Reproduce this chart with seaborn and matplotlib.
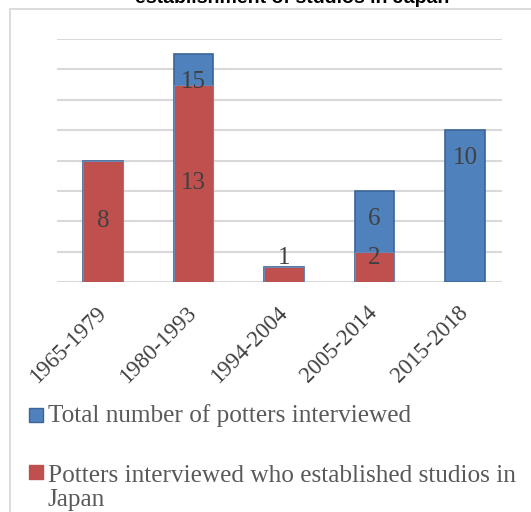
import matplotlib
matplotlib.use("Agg")
import matplotlib.pyplot as plt
from matplotlib.patches import Rectangle
from matplotlib.lines import Line2D
import seaborn as sns
import pandas as pd

# ---- data ----
periods = ["1965-1979", "1980-1993", "1994-2004", "2005-2014", "2015-2018"]
total_interviewed = [8, 15, 1, 6, 10]
established_in_japan = [8, 13, 1, 2, 0]
series_names = ["Total number of potters interviewed",
                "Potters interviewed who established studios in\nJapan"]
title = "establishment of studios in Japan"

BLUE = "#4F81BD"
RED = "#C0504D"
TXT = "#404040"
SERIF = ["Liberation Serif", "DejaVu Serif"]

sns.set_theme(style="white")
plt.rcParams["font.family"] = SERIF

W, H = 531, 512
fig = plt.figure(figsize=(W / 100, H / 100), dpi=100)
fig.patch.set_facecolor("white")

def fx(px):
    return px / W

def fy(py):
    return 1 - py / H

ax = fig.add_axes([fx(57), fy(282), fx(502) - fx(57), fy(39) - fy(282)])

df = pd.DataFrame({"period": periods,
                   "total": total_interviewed,
                   "japan": established_in_japan})

sns.barplot(data=df, x="period", y="total", order=periods, color=BLUE,
            saturation=1, width=0.44, edgecolor="#3B6598", linewidth=1.2,
            ax=ax, zorder=2)
sns.barplot(data=df, x="period", y="japan", order=periods, color=RED,
            saturation=1, width=0.44, edgecolor="#6A86B4", linewidth=0.8,
            ax=ax, zorder=3)

ax.set_ylim(0, 16)
ax.set_xlim(-0.508, 4.41)
ax.set_yticks(range(0, 17, 2))
ax.yaxis.grid(True, color="#D9D9D9", linewidth=1.5, zorder=0)
ax.set_axisbelow(True)
ax.tick_params(axis="y", left=False, labelleft=False)
ax.tick_params(axis="x", bottom=False, pad=14)
for s in ax.spines.values():
    s.set_visible(False)
ax.set_xlabel("")
ax.set_ylabel("")
ax.set_xticks(range(len(periods)))
ax.set_xticklabels(periods, rotation=45, ha="right", va="center",
                   rotation_mode="anchor", fontsize=16.5, color=TXT,
                   family=SERIF)

# value labels
for i, (t, j) in enumerate(zip(total_interviewed, established_in_japan)):
    if t > j:
        ax.text(i, t - 1.85, str(t), ha="center", va="center",
                fontsize=18, color=TXT, zorder=5, family=SERIF)
    if j > 0:
        ax.text(i, max(j / 2, 1.6), str(j), ha="center", va="center",
                fontsize=18, color=TXT, zorder=5, family=SERIF)

# chart frame (partially outside the image)
fig.add_artist(Line2D([fx(10), fx(10)], [fy(9), 0], color="#D9D9D9", lw=1.3))
fig.add_artist(Line2D([fx(10), 1], [fy(9), fy(9)], color="#D9D9D9", lw=1.3))

# title (clipped at top, as in the reference)
fig.text(fx(292), fy(3), title, ha="center", va="baseline", fontsize=14,
         fontweight="bold", color="black", family=["Liberation Sans", "DejaVu Sans"])

# legend
fig.add_artist(Rectangle((fx(29), fy(422)), fx(14), 14 / H,
                         facecolor=BLUE, edgecolor="#3B6598", lw=1.0))
fig.text(fx(48), fy(422), series_names[0], ha="left", va="baseline",
         fontsize=18.2, color="#595959", family=SERIF)
fig.add_artist(Rectangle((fx(29), fy(479)), fx(14), 14 / H,
                         facecolor=RED, edgecolor=RED, lw=1.0))
fig.text(fx(48), fy(506), series_names[1], ha="left", va="baseline",
         fontsize=18.2, color="#595959", family=SERIF, linespacing=1.12)

fig.savefig("out.png", dpi=100, facecolor="white")
